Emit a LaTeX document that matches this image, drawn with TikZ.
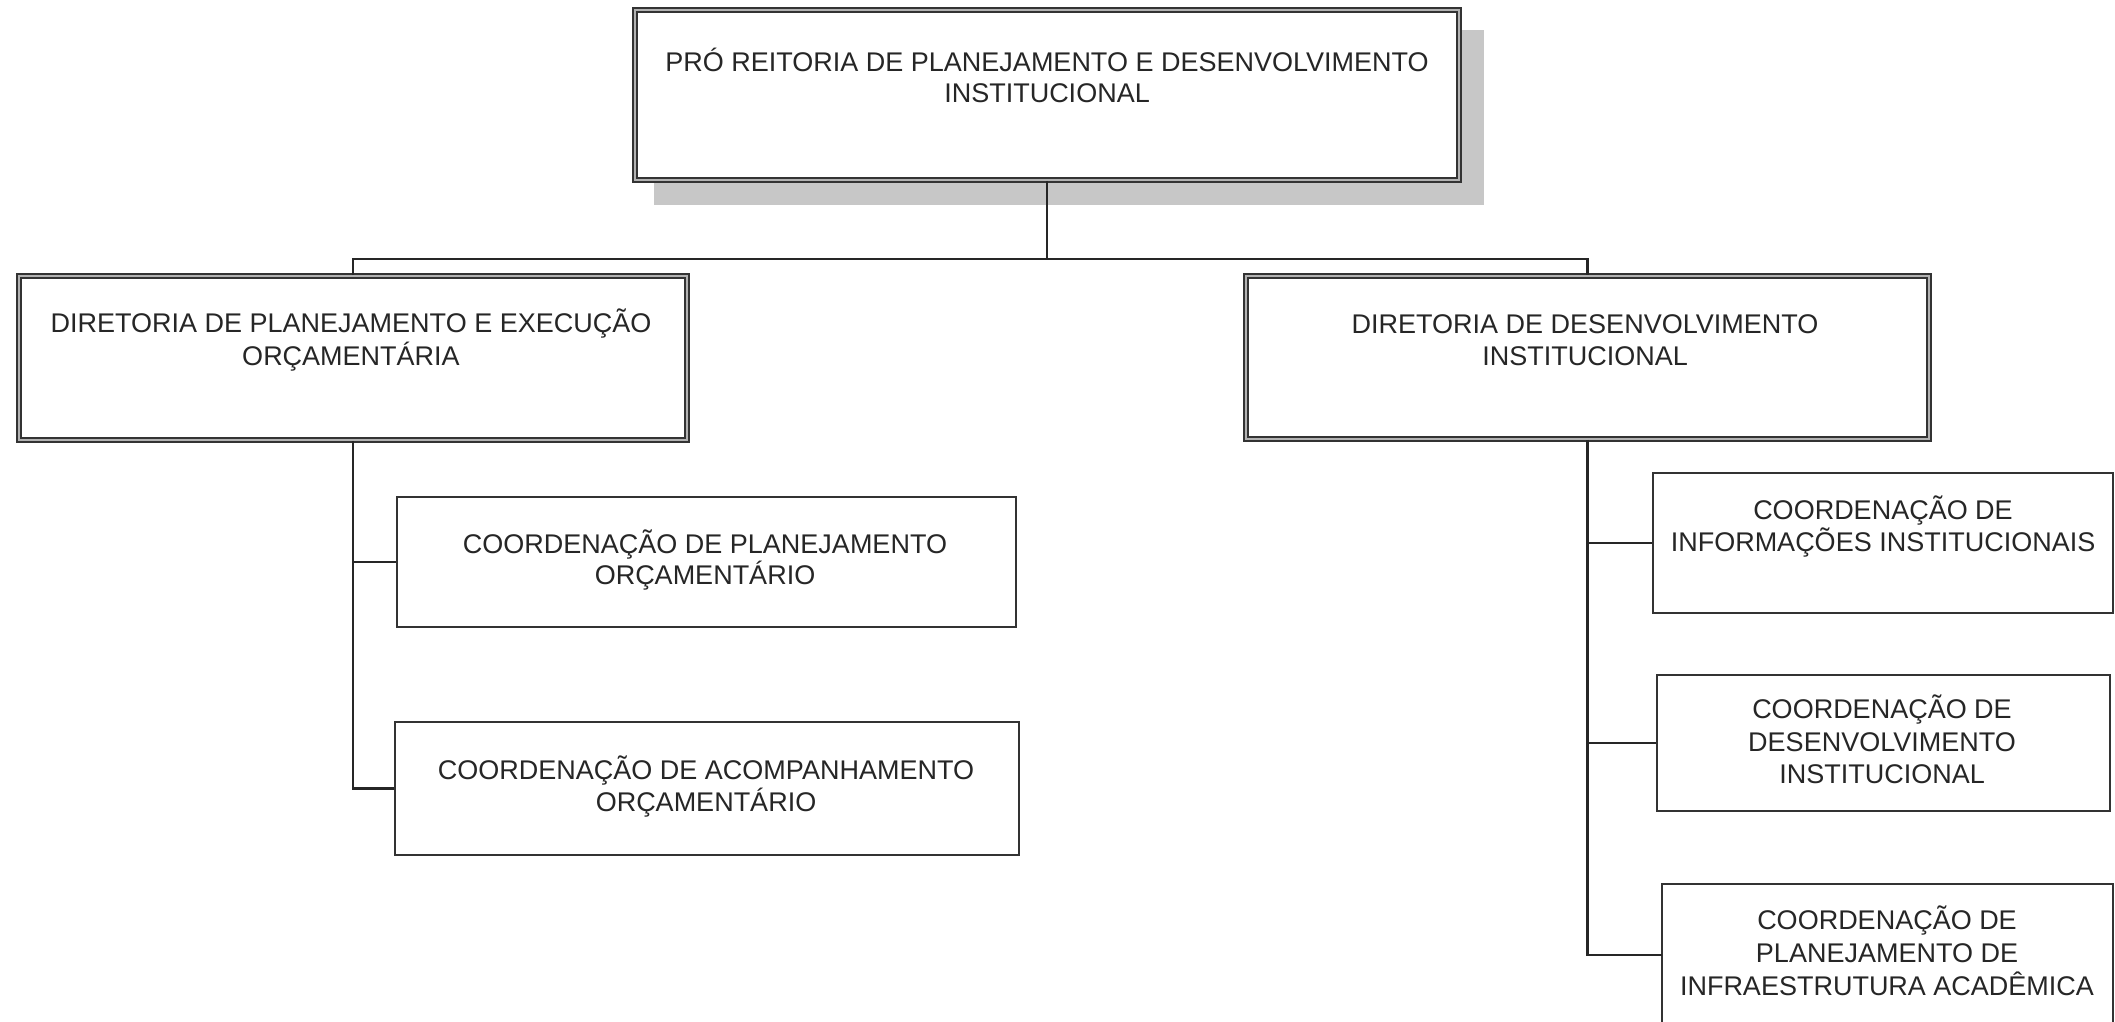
\documentclass[tikz,border=0pt]{standalone}
\usepackage{fontspec}
\setmainfont{Liberation Sans}
\usetikzlibrary{fit}
\begin{document}
\begin{tikzpicture}[x=0.5pt,y=-0.5pt,
  boxsingle/.style={draw=black!80, line width=1pt, fill=white, inner sep=0pt},
  boxdouble/.style={draw=black!80, line width=0.9pt, double=black!30, double distance=1.4pt, fill=white, inner sep=0pt},
  shadowfill/.style={fill=black!22},
  conn/.style={draw=black!85, line width=1.1pt},
  lbl/.style={anchor=base, inner sep=0pt, text=black!85, font=\fontsize{13.5pt}{14pt}\selectfont}]
\useasboundingbox (0,0) rectangle (2115,1022);
\clip (0,0) rectangle (2115,1022);
\fill[white] (0,0) rectangle (2115,1022);

% shadow of the top box
\fill[shadowfill] (654,30) rectangle (1484,205);

% boxes
\node[boxdouble, fit={(635,10) (1459,180)}] (top) {};
\node[boxdouble, fit={(19,276) (687,440)}] (ldir) {};
\node[boxdouble, fit={(1246,276) (1929,439)}] (rdir) {};
\node[boxsingle, fit={(397,497) (1016,627)}] (lc1) {};
\node[boxsingle, fit={(395,722) (1019,855)}] (lc2) {};
\node[boxsingle, fit={(1653,473) (2113,613)}] (rc1) {};
\node[boxsingle, fit={(1657,675) (2110,811)}] (rc2) {};
\node[boxsingle, fit={(1662,884) (2113,1040)}] (rc3) {};

% connectors
\coordinate (bus) at (1047,260);
\coordinate (rc3in) at (1662,955);
\draw[conn] (top.south) -- (bus);
\draw[conn] (ldir.north) -- ++(0,-16) -| (rdir.north);
\draw[conn] (ldir.south) |- (lc2.west);
\draw[conn] (ldir.south |- lc1.west) -- (lc1.west);
\draw[conn] (rdir.south) |- (rc3in);
\draw[conn] (rdir.south |- rc1.west) -- (rc1.west);
\draw[conn] (rdir.south |- rc2.west) -- (rc2.west);

% texts
\node[lbl] (t1a) at (1047,72) {PRÓ REITORIA DE PLANEJAMENTO E DESENVOLVIMENTO};
\node[lbl] (t1b) at (1047,103) {INSTITUCIONAL};
\node[lbl] (t2a) at (351,332) {DIRETORIA DE PLANEJAMENTO E EXECUÇÃO};
\node[lbl] (t2b) at (351,365) {ORÇAMENTÁRIA};
\node[lbl] (t3a) at (1585,333) {DIRETORIA DE DESENVOLVIMENTO};
\node[lbl] (t3b) at (1585,365) {INSTITUCIONAL};
\node[lbl] (t4a) at (705,553) {COORDENAÇÃO DE PLANEJAMENTO};
\node[lbl] (t4b) at (705,584) {ORÇAMENTÁRIO};
\node[lbl] (t5a) at (706,779) {COORDENAÇÃO DE ACOMPANHAMENTO};
\node[lbl] (t5b) at (706,811) {ORÇAMENTÁRIO};
\node[lbl] (t6a) at (1883,519) {COORDENAÇÃO DE};
\node[lbl] (t6b) at (1883,551) {INFORMAÇÕES INSTITUCIONAIS};
\node[lbl] (t7a) at (1882,718) {COORDENAÇÃO DE};
\node[lbl] (t7b) at (1882,751) {DESENVOLVIMENTO};
\node[lbl] (t7c) at (1882,783) {INSTITUCIONAL};
\node[lbl] (t8a) at (1887,929) {COORDENAÇÃO DE};
\node[lbl] (t8b) at (1887,962) {PLANEJAMENTO DE};
\node[lbl] (t8c) at (1887,995) {INFRAESTRUTURA ACADÊMICA};
\end{tikzpicture}
\end{document}
